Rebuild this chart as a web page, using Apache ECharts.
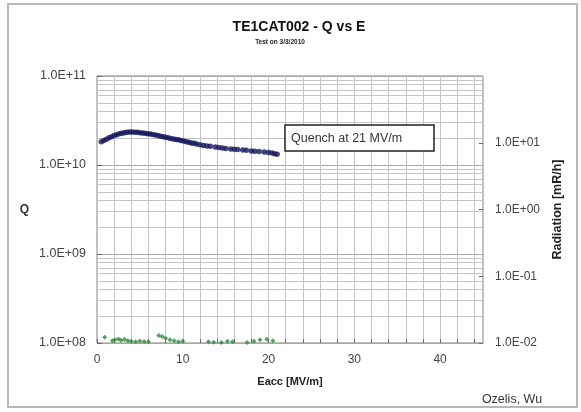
<!DOCTYPE html>
<html>
<head>
<meta charset="utf-8">
<script src="https://cdn.jsdelivr.net/npm/echarts@6/dist/echarts.min.js"></script>
<style>
  html, body { margin: 0; padding: 0; background: #fff; }
  #chart { width: 581px; height: 412px; }
</style>
</head>
<body>
<div id="chart"></div>
<script>
// Accelerating gradient Eacc [MV/m] and quality factor Q
var eaccQ = [0.5,0.8,1.1,1.4,1.7,2.0,2.3,2.6,2.9,3.2,3.5,3.8,4.1,4.4,4.7,5.0,5.3,5.6,5.9,6.2,6.5,6.8,7.1,7.4,7.7,8.0,8.3,8.6,8.9,9.2,9.5,9.8,10.1,10.4,10.7,11.0,11.3,11.6,12.0,12.4,12.8,13.2,13.8,14.2,14.6,15.0,15.6,16.0,16.4,17.0,17.4,18.0,18.4,18.9,19.5,20.0,20.4,20.7,21.0];
var qValues = [1.82e10,1.88e10,1.95e10,2.02e10,2.08e10,2.14e10,2.19e10,2.24e10,2.28e10,2.31e10,2.33e10,2.35e10,2.35e10,2.34e10,2.33e10,2.31e10,2.29e10,2.27e10,2.25e10,2.23e10,2.20e10,2.17e10,2.14e10,2.11e10,2.08e10,2.05e10,2.02e10,1.99e10,1.96e10,1.94e10,1.92e10,1.89e10,1.86e10,1.83e10,1.80e10,1.77e10,1.75e10,1.72e10,1.69e10,1.66e10,1.64e10,1.62e10,1.59e10,1.57e10,1.55e10,1.53e10,1.51e10,1.50e10,1.49e10,1.47e10,1.46e10,1.44e10,1.43e10,1.42e10,1.40e10,1.38e10,1.36e10,1.34e10,1.32e10];

// Radiation readings [mR/h]
var eaccRad = [0.9,1.8,2.1,2.5,2.8,3.2,3.6,4.0,4.5,5.0,5.5,6.0,7.2,7.6,8.0,8.5,9.0,9.5,10.0,13.0,13.6,14.5,15.2,15.8,17.5,18.3,19.0,19.8,20.5];
var radValues = [0.0122,0.0108,0.0112,0.0115,0.0110,0.0113,0.0108,0.0106,0.0104,0.0107,0.0105,0.0104,0.0130,0.0125,0.0118,0.0112,0.0108,0.0104,0.0106,0.0104,0.0103,0.0102,0.0106,0.0104,0.0102,0.0106,0.0112,0.0114,0.0108];

// Minor gridline values for the Q axis (2..9 in each decade)
var qMinor = [];
[1e8, 1e9, 1e10].forEach(function (d) {
  for (var k = 2; k <= 9; k++) qMinor.push(k * d);
});

function sci(v) {
  var e = Math.round(Math.log10(v));
  var m = v / Math.pow(10, e);
  var s = e < 0 ? '-' : '+';
  var a = Math.abs(e);
  return m.toFixed(1) + 'E' + s + (a < 10 ? '0' + a : a);
}

function zip(xs, ys) {
  return xs.map(function (x, i) { return [x, ys[i]]; });
}

var chart = echarts.init(document.getElementById('chart'));
var gridColor = '#c4c4c4';
var font = 'Arial, "Liberation Sans", sans-serif';

chart.setOption({
  backgroundColor: '#ffffff',
  animation: false,
  grid: { left: 97, right: 98, top: 76, bottom: 69, show: true, borderColor: '#808080', borderWidth: 1 },
  graphic: [
    { type: 'rect', shape: { x: 8, y: 4, width: 569, height: 403 },
      style: { fill: 'none', stroke: '#b8b8b8', lineWidth: 2 }, silent: true, z: -1 },
    { type: 'text', x: 299, y: 20, z: 100, style: { text: 'TE1CAT002 - Q vs E', font: 'bold 14px ' + font, fill: '#111', textAlign: 'center' } },
    { type: 'text', x: 280, y: 39, z: 100, style: { text: 'Test on 3/3/2010', font: 'bold 6.5px ' + font, fill: '#222', textAlign: 'center' } },
    { type: 'text', x: 512, y: 393, z: 100, style: { text: 'Ozelis, Wu', font: '12.5px ' + font, fill: '#333', textAlign: 'center' } },
    { type: 'rect', z: 100, shape: { x: 285, y: 125, width: 149, height: 26 },
      style: { fill: '#fff', stroke: '#222', lineWidth: 1.5 } },
    { type: 'text', z: 101, x: 291, y: 132, style: { text: 'Quench at 21 MV/m', font: '12.5px ' + font, fill: '#333' } }
  ],
  xAxis: {
    type: 'value', min: 0, max: 45, interval: 2,
    name: 'Eacc [MV/m]', nameLocation: 'middle', nameGap: 33,
    nameTextStyle: { fontFamily: font, fontSize: 11, fontWeight: 'bold', color: '#222' },
    axisLine: { show: false },
    axisTick: { show: true, inside: true, length: 4, lineStyle: { color: '#666' } },
    axisLabel: {
      fontFamily: font, fontSize: 12, color: '#444', margin: 11, showMaxLabel: false,
      formatter: function (v) { return v % 10 === 0 ? String(v) : ''; }
    },
    splitLine: { show: true, lineStyle: { color: gridColor, width: 1 } }
  },
  yAxis: [
    {
      type: 'log', min: 1e8, max: 1e11, logBase: 10,
      name: 'Q', nameLocation: 'middle', nameGap: 68, nameRotate: 0,
      nameTextStyle: { fontFamily: font, fontSize: 12, fontWeight: 'bold', color: '#333' },
      axisLine: { show: false },
      axisTick: { show: true, inside: true, length: 5, lineStyle: { color: '#666' } },
      axisLabel: { fontFamily: font, fontSize: 12.5, color: '#444', margin: 11, formatter: sci },
      splitLine: { show: true, lineStyle: { color: '#a8a8a8', width: 1 } }
    },
    {
      type: 'log', min: 0.01, max: 100, logBase: 10, position: 'right',
      name: 'Radiation [mR/h]', nameLocation: 'middle', nameGap: 65, nameRotate: 90,
      nameTextStyle: { fontFamily: font, fontSize: 12.5, fontWeight: 'bold', color: '#222' },
      axisLine: { show: false },
      axisTick: { show: true, inside: true, length: 4, lineStyle: { color: '#666' } },
      axisLabel: { fontFamily: font, fontSize: 12, color: '#444', margin: 12, formatter: sci, showMaxLabel: false },
      splitLine: { show: false }
    }
  ],
  series: [
    {
      // Minor Q gridlines
      type: 'line', yAxisIndex: 0, data: [], silent: true,
      markLine: {
        silent: true, symbol: 'none', label: { show: false },
        lineStyle: { color: gridColor, width: 1, type: 'solid' },
        data: qMinor.map(function (v) { return { yAxis: v }; })
      }
    },
    {
      name: 'Q', type: 'scatter', yAxisIndex: 0,
      symbol: 'circle', symbolSize: 5.5,
      itemStyle: { color: '#15155c' },
      data: zip(eaccQ, qValues), z: 5
    },
    {
      name: 'Radiation', type: 'scatter', yAxisIndex: 1,
      symbol: 'diamond', symbolSize: 5,
      itemStyle: { color: '#2e8a3c' },
      data: zip(eaccRad, radValues), z: 5
    }
  ]
});
</script>
</body>
</html>
